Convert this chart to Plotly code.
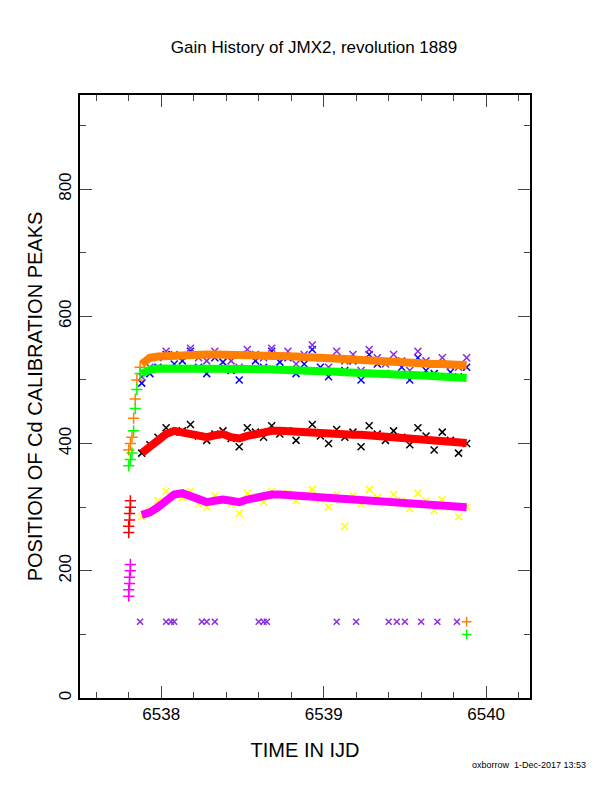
import plotly.graph_objects as go

t = [6537.88,6537.93,6537.98,6538.03,6538.08,6538.13,6538.18,6538.23,6538.28,6538.33,6538.38,6538.43,6538.48,6538.53,6538.58,6538.63,6538.68,6538.73,6538.78,6538.83,6538.88,6538.93,6538.98,6539.03,6539.08,6539.13,6539.18,6539.23,6539.28,6539.33,6539.38,6539.43,6539.48,6539.53,6539.58,6539.63,6539.68,6539.73,6539.78,6539.83,6539.88]
black = [385,398,410,425,418,420,430,412,405,415,420,408,395,425,418,410,428,415,420,405,418,430,412,400,422,410,418,395,428,415,405,420,410,398,425,412,390,418,405,385,400]
yellow = [285,295,310,325,320,315,325,305,300,318,312,305,290,322,315,308,325,318,322,310,318,328,312,300,320,270,318,305,328,315,308,320,310,298,322,310,295,312,300,285,300]
blue = [495,510,520,540,525,530,545,520,510,535,528,515,500,540,530,520,545,528,535,510,525,548,520,505,535,515,530,500,540,525,510,530,520,500,535,515,510,525,512,505,520]
purple = [505,520,535,545,540,538,550,535,530,545,540,530,520,548,540,535,550,538,545,525,540,555,535,520,545,530,540,515,548,535,525,540,530,515,545,530,525,535,522,520,535]
red = [385,395,405,415,420,418,415,412,410,413,415,410,408,412,415,418,420,420,419,418,418,417,417,416,416,415,414,414,413,412,411,410,409,408,407,406,405,404,403,402,401]
magenta = [288,292,300,312,320,322,318,312,308,310,312,310,308,312,315,318,320,320,319,318,318,317,316,315,315,314,313,312,311,310,309,308,307,306,305,304,303,302,301,300,300]
orange = [525,535,537,538,539,540,540,540,540,540,540,540,540,539,539,538,538,538,537,537,536,536,535,535,534,533,532,531,530,530,529,528,528,527,526,526,525,525,524,524,523]
green = [510,516,518,518,519,520,520,520,520,520,520,519,519,518,518,517,517,516,516,515,515,514,514,513,513,512,511,511,510,510,509,509,508,508,507,506,506,505,504,504,503]

ramp_t = [6537.80,6537.81,6537.82,6537.83,6537.84,6537.85,6537.87]
ramp_orange = [390,400,410,440,470,500,520]
ramp_green = [365,375,385,420,455,485,510]
early_t = [6537.80,6537.80,6537.805,6537.805,6537.81,6537.81]
early_red = [260,270,280,290,300,310]
early_mag = [160,170,180,190,200,210]

bad_t = [6537.87,6538.03,6538.06,6538.08,6538.25,6538.28,6538.33,6538.6,6538.63,6538.65,6539.08,6539.2,6539.4,6539.45,6539.5,6539.6,6539.7,6539.82]
bad_y = [120]*len(bad_t)
end_t = [6539.88, 6539.88]
end_y = [120, 100]
end_c = ["#ff7f00", "#00ff00"]

fig = go.Figure()
def sc(x, y, c, sym="x-thin", size=7):
    fig.add_trace(go.Scatter(x=x, y=y, mode="markers",
        marker=dict(symbol=sym, size=size, color=c, line=dict(color=c, width=1.5))))
def ln(x, y, c):
    fig.add_trace(go.Scatter(x=x, y=y, mode="lines", line=dict(color=c, width=8)))

sc(t, black, "black")
sc(t, yellow, "#ffff00")
sc(t, blue, "#0000ff")
sc(t, purple, "#8a2be2")
ln(t, orange, "#ff7f00")
ln(t, green, "#00ff00")
ln(t, red, "#ff0000")
ln(t, magenta, "#ff00ff")
sc(ramp_t, ramp_orange, "#ff7f00", "cross-thin", 8)
sc(ramp_t, ramp_green, "#00ff00", "cross-thin", 8)
sc(early_t, early_red, "#ff0000", "cross-thin", 8)
sc(early_t, early_mag, "#ff00ff", "cross-thin", 8)
sc(bad_t, bad_y, "#8a2be2", "x-thin", 6)
sc(end_t, end_y, end_c, "cross-thin", 7)

fig.update_layout(
    width=612, height=792, showlegend=False,
    plot_bgcolor="white", paper_bgcolor="white",
    margin=dict(l=72, r=90, t=87, b=102, autoexpand=False),
    font=dict(family="Liberation Sans, Arial", size=17, color="black"),
    title=dict(text="Gain History of JMX2, revolution 1889", x=0.5, xanchor="center", y=0.951, yanchor="middle", font=dict(size=17)),
    xaxis=dict(range=[6537.5, 6540.27], tickvals=[6538, 6539, 6540], ticks="inside", ticklen=12,
               mirror="ticks", showline=True, linecolor="black", linewidth=2, showgrid=False, zeroline=False,
               automargin=False, title=dict(text="TIME IN IJD", standoff=20),
               minor=dict(dtick=0.2, ticks="inside", ticklen=6, tick0=6538)),
    yaxis=dict(range=[0, 948], tickvals=[0, 200, 400, 600, 800], ticks="inside", ticklen=12,
               mirror="ticks", showline=True, linecolor="black", linewidth=2, showgrid=False, zeroline=False,
               automargin=False, tickangle=-90, title=dict(text="POSITION OF Cd CALIBRATION PEAKS", standoff=8),
               minor=dict(dtick=100, ticks="inside", ticklen=6)),
    annotations=[dict(text="oxborrow  1-Dec-2017 13:53", xref="paper", yref="paper", x=1.129, y=-0.111,
                      xanchor="right", yanchor="middle", showarrow=False, font=dict(size=9))],
)
fig.write_html("out.html")
